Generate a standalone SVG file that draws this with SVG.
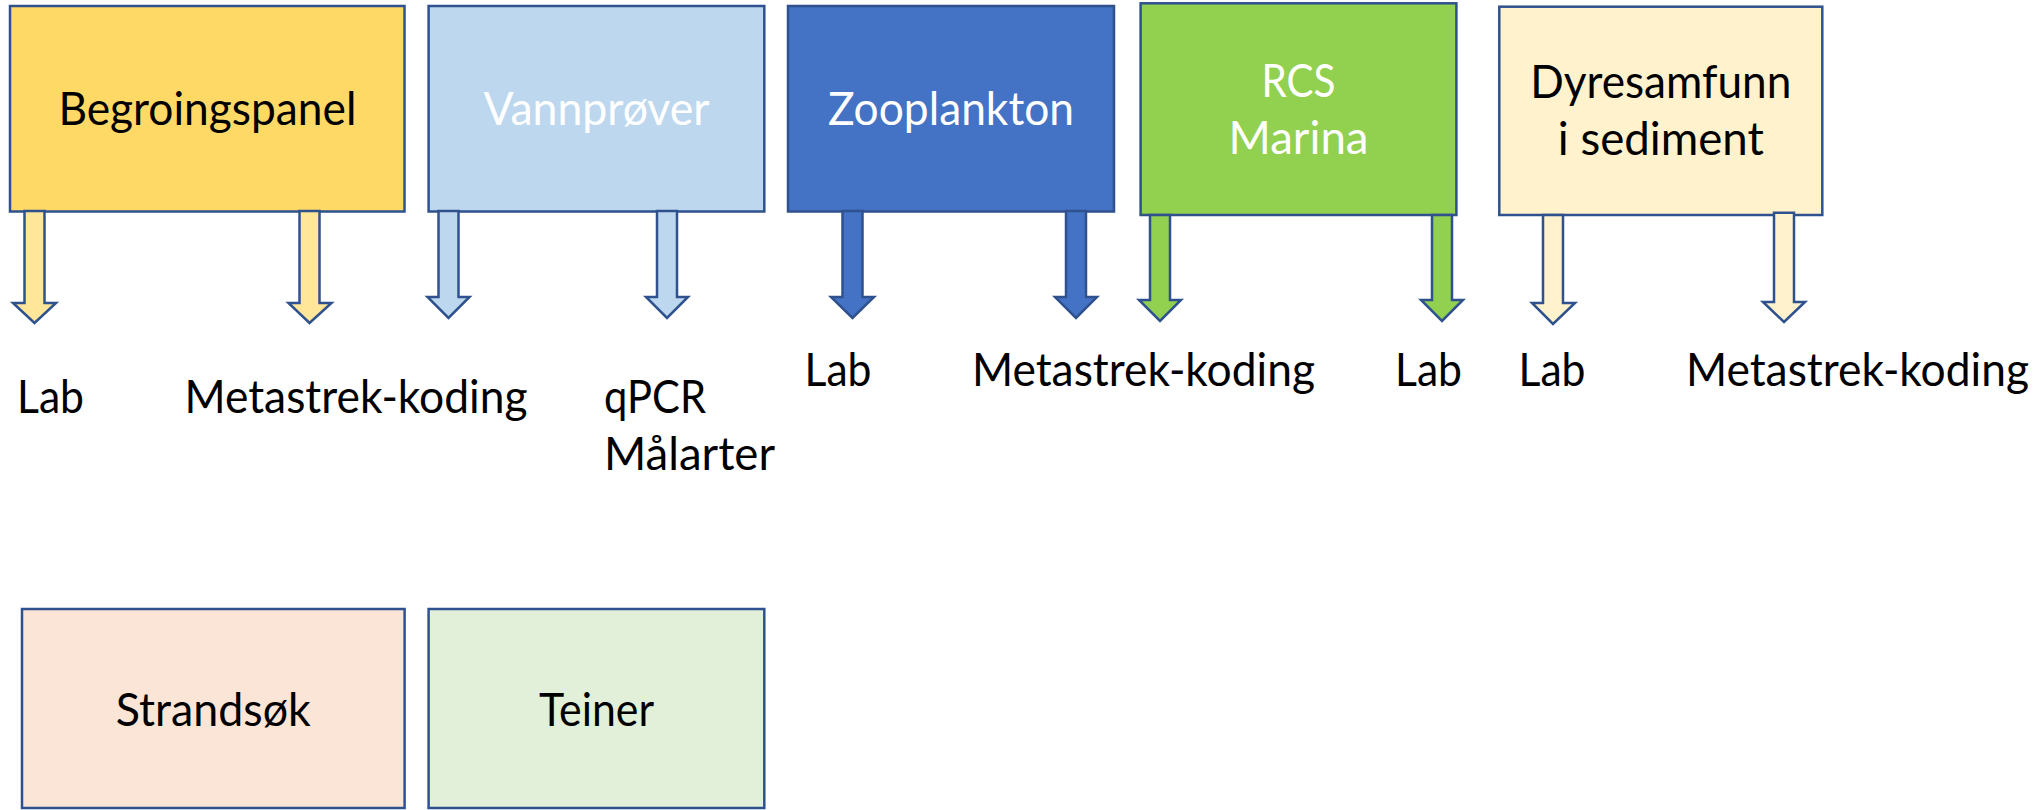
<svg xmlns="http://www.w3.org/2000/svg" width="2041" height="810" viewBox="0 0 2041 810">
<style>
.box{stroke:#2F528F;stroke-width:2.5}
.arr{stroke:#2F528F;stroke-width:2.5;stroke-linejoin:miter}
text{font-family:Lato,"Open Sans","Liberation Sans",sans-serif;font-size:46px;lengthAdjust:spacingAndGlyphs}
.c{text-anchor:middle}
.k{fill:#000}
.w{fill:#fff}
</style>
<rect width="2041" height="810" fill="#fff"/>
<g id="node-begroingspanel">
<rect class="box" x="10" y="6" width="394.5" height="205.5" fill="#FFD966"/>
<text class="c k" x="207.4" y="125" textLength="298" lengthAdjust="spacingAndGlyphs">Begroingspanel</text>
</g>
<g id="node-vannprover">
<rect class="box" x="428.6" y="6" width="335.7" height="205.5" fill="#BDD7EE"/>
<text class="c w" x="596.5" y="125" textLength="226" lengthAdjust="spacingAndGlyphs">Vannprøver</text>
</g>
<g id="node-zooplankton">
<rect class="box" x="788" y="6" width="326" height="205.5" fill="#4472C4"/>
<text class="c w" x="951" y="125" textLength="246" lengthAdjust="spacingAndGlyphs">Zooplankton</text>
</g>
<g id="node-rcs-marina">
<rect class="box" x="1140.6" y="3.3" width="315.8" height="211.7" fill="#92D050"/>
<text class="c w" x="1298.5" y="96.7" textLength="74" lengthAdjust="spacingAndGlyphs">RCS</text>
<text class="c w" x="1298.5" y="154" textLength="140" lengthAdjust="spacingAndGlyphs">Marina</text>
</g>
<g id="node-dyresamfunn">
<rect class="box" x="1499.3" y="6.7" width="323" height="208.3" fill="#FFF2CC"/>
<text class="c k" x="1660.8" y="98.3" textLength="261" lengthAdjust="spacingAndGlyphs">Dyresamfunn</text>
<text class="c k" x="1660.8" y="155" textLength="206" lengthAdjust="spacingAndGlyphs">i sediment</text>
</g>
<g id="node-strandsok">
<rect class="box" x="22" y="609" width="382.6" height="199" fill="#FBE5D6"/>
<text class="c k" x="213.3" y="726" textLength="195" lengthAdjust="spacingAndGlyphs">Strandsøk</text>
</g>
<g id="node-teiner">
<rect class="box" x="428.6" y="609" width="335.7" height="199" fill="#E2F0D9"/>
<text class="c k" x="596.5" y="726" textLength="115" lengthAdjust="spacingAndGlyphs">Teiner</text>
</g>
<g id="connectors">
<path class="arr" fill="#FFE699" d="M24.5 211 V303 H13 L34.5 323 L56 303 H44.5 V211 Z"/>
<path class="arr" fill="#FFE699" d="M299.5 211 V303 H288.5 L309.5 323 L331.5 303 H319.5 V211 Z"/>
<path class="arr" fill="#BDD7EE" d="M438.5 211 V297 H427.5 L448.5 318 L469.5 297 H458.5 V211 Z"/>
<path class="arr" fill="#BDD7EE" d="M657 211 V297 H646 L667 318 L688 297 H677 V211 Z"/>
<path class="arr" fill="#4472C4" d="M842.5 211 V297 H831 L852.5 318 L874 297 H862.5 V211 Z"/>
<path class="arr" fill="#4472C4" d="M1066 211 V297 H1055 L1076 318 L1097 297 H1086 V211 Z"/>
<path class="arr" fill="#92D050" d="M1150 215 V300 H1139 L1160 321 L1181 300 H1170 V215 Z"/>
<path class="arr" fill="#92D050" d="M1432 215 V300 H1421 L1442 321 L1463 300 H1452 V215 Z"/>
<path class="arr" fill="#FFF2CC" d="M1543 215 V303 H1532 L1553 324 L1575 303 H1563 V215 Z"/>
<path class="arr" fill="#FFF2CC" d="M1774 212.7 V302 H1763 L1784 322 L1805 302 H1794 V212.7 Z"/>
</g>
<g id="labels">
<text class="k" x="17" y="412.7" textLength="67" lengthAdjust="spacingAndGlyphs">Lab</text>
<text class="k" x="184.5" y="412.7" textLength="343" lengthAdjust="spacingAndGlyphs">Metastrek-koding</text>
<text class="k" x="604" y="412.7" textLength="102" lengthAdjust="spacingAndGlyphs">qPCR</text>
<text class="k" x="604" y="470" textLength="171" lengthAdjust="spacingAndGlyphs">Målarter</text>
<text class="k" x="804.5" y="386" textLength="67" lengthAdjust="spacingAndGlyphs">Lab</text>
<text class="k" x="972" y="386" textLength="343" lengthAdjust="spacingAndGlyphs">Metastrek-koding</text>
<text class="k" x="1395" y="386" textLength="67" lengthAdjust="spacingAndGlyphs">Lab</text>
<text class="k" x="1518.5" y="386" textLength="67" lengthAdjust="spacingAndGlyphs">Lab</text>
<text class="k" x="1686" y="386" textLength="343" lengthAdjust="spacingAndGlyphs">Metastrek-koding</text>
</g>
</svg>
